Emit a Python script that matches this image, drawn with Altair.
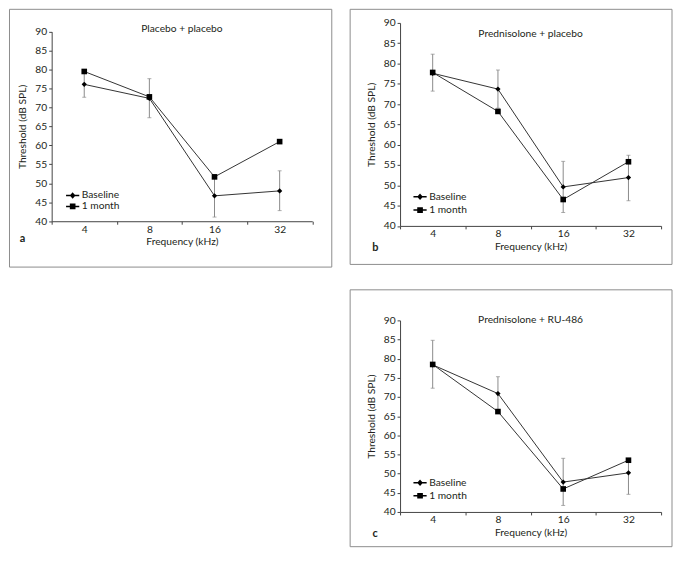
import altair as alt
import pandas as pd

# ---------------- data ----------------
freqs = ["4", "8", "16", "32"]
series_names = ["Baseline", "1 month"]
y_ticks = [40, 45, 50, 55, 60, 65, 70, 75, 80, 85, 90]

a_title = "Placebo + placebo"
a_baseline = [76.1, 72.4, 46.7, 48.0]
a_month = [79.5, 72.8, 51.7, 61.0]
a_err_low = [72.7, 67.3, 41.1, 42.8]
a_err_high = [79.4, 77.6, 52.2, 53.3]

b_title = "Prednisolone + placebo"
b_baseline = [77.6, 73.7, 49.6, 51.9]
b_month = [77.8, 68.2, 46.5, 55.8]
b_err_low = [73.2, 69.0, 43.3, 46.2]
b_err_high = [82.3, 78.4, 55.9, 57.4]

c_title = "Prednisolone + RU-486"
c_baseline = [78.4, 70.9, 47.8, 50.2]
c_month = [78.5, 66.2, 46.0, 53.5]
c_err_low = [72.3, 66.6, 41.7, 44.6]
c_err_high = [84.8, 75.3, 54.0, 53.5]

# ---------------- style ----------------
FONT = "Lato"
FS = 10.3
TXT = "#231f20"
AX = "#444444"
ERR = "#8a8a8a"
# legend glyphs: short line with marker (unit coords scaled by sqrt(size)/2)
PATH_D = "M-1.9,0L1.9,0M0,-0.6L0.54,0L0,0.6L-0.54,0Z"
PATH_S = "M-1.9,0L1.9,0M-0.6,-0.6L0.6,-0.6L0.6,0.6L-0.6,0.6Z"


def panel(title, letter, base, month, lo, hi, w, h, top, box, title_y,
          letter_xy, leg_xy, leg_pad):
    df = pd.DataFrame({
        "freq": freqs * 2,
        "value": base + month,
        "series": ["Baseline"] * 4 + ["1 month"] * 4,
    })
    err = pd.DataFrame({"freq": freqs, "lo": lo, "hi": hi})

    x_enc = alt.X(
        "freq:N", sort=freqs,
        scale=alt.Scale(domain=freqs, paddingInner=0, paddingOuter=0),
        axis=alt.Axis(title="Frequency (kHz)", labelAngle=0, tickBand="extent",
                      labelPadding=0, titlePadding=2),
    )
    ysc = alt.Scale(domain=[40, 90], nice=False, zero=False, range=[h, top])
    yax = alt.Axis(title="Threshold (dB SPL)", values=y_ticks, titlePadding=7)

    def Y(f):
        return alt.Y(f, scale=ysc, axis=yax)

    boxl = alt.Chart(pd.DataFrame({"k": [0]})).mark_rect(
        fillOpacity=0, stroke="#8c8c8c", strokeWidth=1
    ).encode(x=alt.value(box[0]), x2=alt.value(box[1]),
             y=alt.value(box[2]), y2=alt.value(box[3]))

    lines = alt.Chart(df).mark_line(color="#333333", strokeWidth=1).encode(
        x=x_enc, y=Y("value:Q"), detail="series:N")

    rules = alt.Chart(err).mark_rule(color=ERR, strokeWidth=1).encode(
        x=x_enc, y=Y("lo:Q"), y2="hi:Q")
    cap_lo = alt.Chart(err).mark_tick(color=ERR, size=4, thickness=1).encode(
        x=x_enc, y=Y("lo:Q"))
    cap_hi = alt.Chart(err).mark_tick(color=ERR, size=4, thickness=1).encode(
        x=x_enc, y=Y("hi:Q"))

    pts_b = alt.Chart(df).transform_filter(
        "datum.series == 'Baseline'"
    ).mark_point(shape="diamond", filled=True, color="black", size=28, opacity=1).encode(
        x=x_enc, y=Y("value:Q"))
    pts_m = alt.Chart(df).transform_filter(
        "datum.series == '1 month'"
    ).mark_point(shape="square", filled=True, color="black", size=32, opacity=1).encode(
        x=x_enc, y=Y("value:Q"))

    leg = alt.Chart(df).transform_filter("false").mark_point(
        size=49, opacity=1, filled=False, fill="black", stroke="black",
        strokeWidth=1, fillOpacity=1,
    ).encode(
        x=x_enc, y=Y("value:Q"),
        shape=alt.Shape(
            "series:N",
            scale=alt.Scale(domain=series_names, range=[PATH_D, PATH_S]),
            legend=alt.Legend(
                title=None, orient="none", legendX=leg_xy[0], legendY=leg_xy[1],
                symbolSize=49, labelFont=FONT, labelFontSize=FS,
                labelColor=TXT, labelOffset=4, rowPadding=leg_pad, padding=0,
            ),
        ),
    )

    ttl = alt.Chart(pd.DataFrame({"t": [title]})).mark_text(
        font=FONT, fontSize=FS, color=TXT, align="center", baseline="middle"
    ).encode(text="t:N", x=alt.value(w / 2), y=alt.value(title_y))

    let = alt.Chart(pd.DataFrame({"t": [letter]})).mark_text(
        font=FONT, fontSize=11, fontWeight="bold", color=TXT,
        align="center", baseline="middle"
    ).encode(text="t:N", x=alt.value(letter_xy[0]), y=alt.value(letter_xy[1]))

    return alt.layer(boxl, lines, rules, cap_lo, cap_hi, pts_b, pts_m, leg, ttl, let).properties(
        width=w, height=h)


# panel a: plot drawn from y=8.8 px so its top row aligns with panel b
pa = panel(a_title, "a", a_baseline, a_month, a_err_low, a_err_high,
           262.5, 199.8, 8.8, (-42.5, 282.2, -13.7, 246.0), 6.6, (-29.5, 217.3),
           (16, 168.7), -1.3)
pb = panel(b_title, "b", b_baseline, b_month, b_err_low, b_err_high,
           263, 204.5, 0, (-50.3, 274.0, -13.7, 243.3), 11.6, (-25, 226.6),
           (15, 170.0), 2.4)
pc = panel(c_title, "c", c_baseline, c_month, c_err_low, c_err_high,
           263, 193, 0, (-50.3, 274.0, -30.8, 228.0), 0, (-25, 214.8),
           (15, 158.5), 2.0)

chart = alt.hconcat(
    pa,
    alt.vconcat(pb, pc, spacing=22.7).resolve_scale(shape="independent").resolve_legend(shape="independent"),
    spacing=15, padding={"top": -2, "left": 0, "right": 0, "bottom": 0},
).resolve_scale(shape="independent").resolve_legend(shape="independent").configure_view(
    stroke="transparent"
).configure_axis(
    domainColor=AX, tickColor=AX, labelColor=TXT, titleColor=TXT,
    labelFont=FONT, titleFont=FONT, labelFontSize=FS, titleFontSize=FS,
    titleFontWeight="normal", grid=False, tickSize=3, domainWidth=1, tickWidth=1,
).configure_text(font=FONT)

chart.save("out.html", embed_options={"renderer": "svg", "actions": False})
